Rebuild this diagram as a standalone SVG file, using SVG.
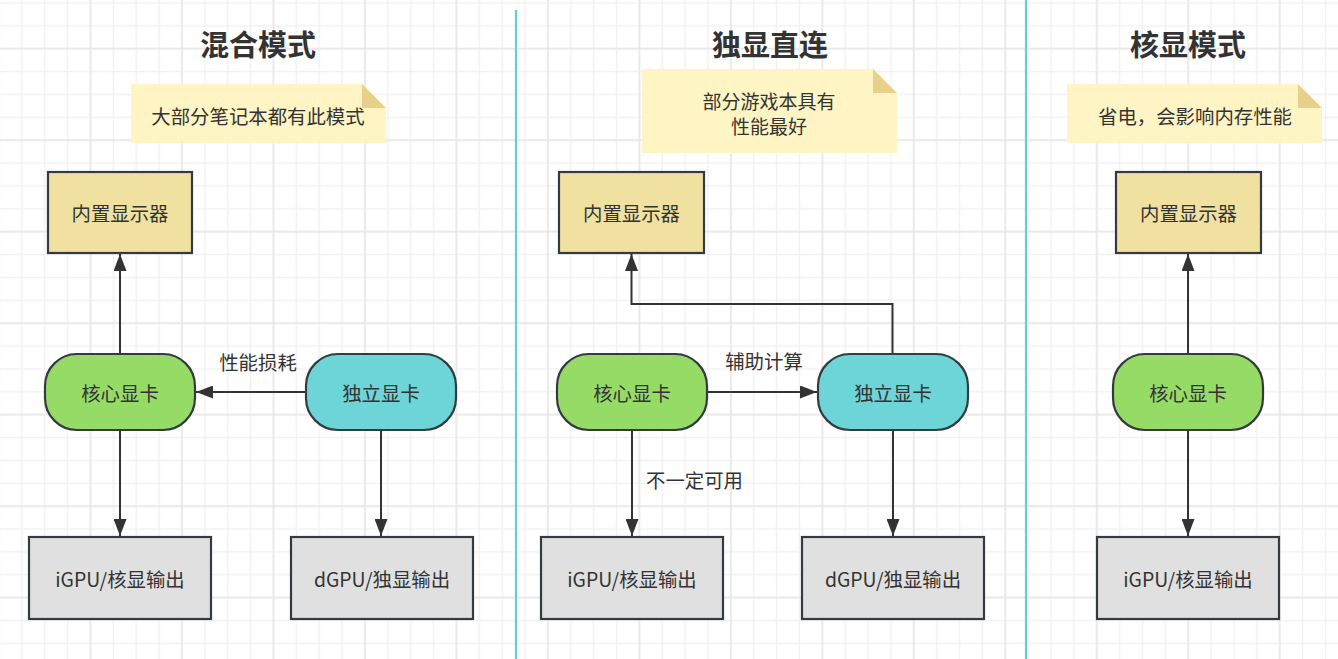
<svg xmlns="http://www.w3.org/2000/svg" width="1338" height="659" viewBox="0 0 1338 659">
<defs>
<pattern id="minor" patternUnits="userSpaceOnUse" x="10.455" y="-8.475" width="22.87" height="22.87">
<path d="M11.435 0V22.87M0 11.435H22.87" stroke="#f1f1f1" stroke-width="1.5" fill="none"/>
</pattern>
<pattern id="major" patternUnits="userSpaceOnUse" x="44.76" y="2.96" width="91.48" height="91.48">
<path d="M45.74 0V91.48M0 45.74H91.48" stroke="#e7e7e7" stroke-width="1.5" fill="none"/>
</pattern>
<marker id="arr" markerUnits="userSpaceOnUse" markerWidth="18" markerHeight="13" refX="17" refY="6.5" orient="auto">
<path d="M0 0L17 6.5L0 13z" fill="#333"/>
</marker>
<style>
text{font-family:"Noto Sans CJK SC","Noto Sans",sans-serif;fill:#333;}
.t{font-size:19.4px;text-anchor:middle;dominant-baseline:central;}
.tn{font-size:19px;text-anchor:middle;dominant-baseline:central;}
.title{font-size:29px;font-weight:bold;text-anchor:middle;dominant-baseline:central;}
.lbl{font-size:19.4px;dominant-baseline:central;}
.disp{fill:#f0e1a0;stroke:#333a40;stroke-width:2.2;}
.ig{fill:#97db67;stroke:#333a40;stroke-width:2.2;}
.dg{fill:#6dd5d7;stroke:#333a40;stroke-width:2.2;}
.out{fill:#e0e0e0;stroke:#333a40;stroke-width:2.2;}
.note{fill:#fff4c3;}
.fold{fill:#e6d08a;}
.c{fill:none;stroke:#333;stroke-width:2;marker-end:url(#arr);}
.div{stroke:#66ccd6;stroke-width:2.2;}
</style>
</defs>
<rect width="1338" height="659" fill="#ffffff"/>
<rect width="1338" height="659" fill="url(#minor)"/>
<rect width="1338" height="659" fill="url(#major)"/>
<g id="dividers">
<line class="div" x1="516" y1="10" x2="516" y2="659"/>
<line class="div" x1="1026" y1="0" x2="1026" y2="659"/>
</g>
<g id="titles">
<text class="title" x="258" y="43">混合模式</text>
<text class="title" x="770" y="43">独显直连</text>
<text class="title" x="1188" y="43">核显模式</text>
</g>
<g id="note1">
<path class="note" d="M131 84H362L386 108V143H131z"/>
<path class="fold" d="M362 84V108H386z"/>
<text class="t" x="258" y="115">大部分笔记本都有此模式</text>
</g>
<g id="note2">
<path class="note" d="M642 69H873L897 93V153H642z"/>
<path class="fold" d="M873 69V93H897z"/>
<text class="tn" x="769" y="100">部分游戏本具有</text>
<text class="tn" x="769" y="125">性能最好</text>
</g>
<g id="note3">
<path class="note" d="M1067 84H1298L1322 108V143H1067z"/>
<path class="fold" d="M1298 84V108H1322z"/>
<text class="t" x="1195" y="115">省电，会影响内存性能</text>
</g>
<g id="connectors">
<path class="c" d="M120 354V254"/>
<path class="c" d="M306 392H196"/>
<path class="c" d="M120 430V536"/>
<path class="c" d="M381 430V536"/>
<path class="c" d="M892.5 354V304H631.5V254"/>
<path class="c" d="M707 392H817"/>
<path class="c" d="M632 430V536"/>
<path class="c" d="M893 430V536"/>
<path class="c" d="M1188 354V254"/>
<path class="c" d="M1188 430V536"/>
<text class="lbl" x="258" y="361" text-anchor="middle">性能损耗</text>
<text class="lbl" x="764" y="360" text-anchor="middle">辅助计算</text>
<text class="lbl" x="646" y="479">不一定可用</text>
</g>
<g id="s1-display">
<rect class="disp" x="48" y="172" width="144" height="81"/>
<text class="t" x="120" y="212.5">内置显示器</text>
</g>
<g id="s1-igpu">
<rect class="ig" x="45" y="354" width="150" height="76" rx="32" ry="32"/>
<text class="t" x="120" y="392">核心显卡</text>
</g>
<g id="s1-dgpu">
<rect class="dg" x="306" y="354" width="150" height="76" rx="32" ry="32"/>
<text class="t" x="381" y="392">独立显卡</text>
</g>
<g id="s1-iout">
<rect class="out" x="29" y="537" width="182" height="82"/>
<text class="t" x="120" y="578">iGPU/核显输出</text>
</g>
<g id="s1-dout">
<rect class="out" x="291" y="537" width="182" height="82"/>
<text class="t" x="382" y="578">dGPU/独显输出</text>
</g>
<g id="s2-display">
<rect class="disp" x="559" y="172" width="145" height="81"/>
<text class="t" x="631.5" y="212.5">内置显示器</text>
</g>
<g id="s2-igpu">
<rect class="ig" x="557" y="354" width="150" height="76" rx="32" ry="32"/>
<text class="t" x="632" y="392">核心显卡</text>
</g>
<g id="s2-dgpu">
<rect class="dg" x="818" y="354" width="150" height="76" rx="32" ry="32"/>
<text class="t" x="893" y="392">独立显卡</text>
</g>
<g id="s2-iout">
<rect class="out" x="541" y="537" width="182" height="82"/>
<text class="t" x="632" y="578">iGPU/核显输出</text>
</g>
<g id="s2-dout">
<rect class="out" x="802" y="537" width="182" height="82"/>
<text class="t" x="893" y="578">dGPU/独显输出</text>
</g>
<g id="s3-display">
<rect class="disp" x="1116" y="172" width="145" height="81"/>
<text class="t" x="1188.5" y="212.5">内置显示器</text>
</g>
<g id="s3-igpu">
<rect class="ig" x="1113" y="354" width="150" height="76" rx="32" ry="32"/>
<text class="t" x="1188" y="392">核心显卡</text>
</g>
<g id="s3-iout">
<rect class="out" x="1097" y="537" width="182" height="82"/>
<text class="t" x="1188" y="578">iGPU/核显输出</text>
</g>
</svg>
